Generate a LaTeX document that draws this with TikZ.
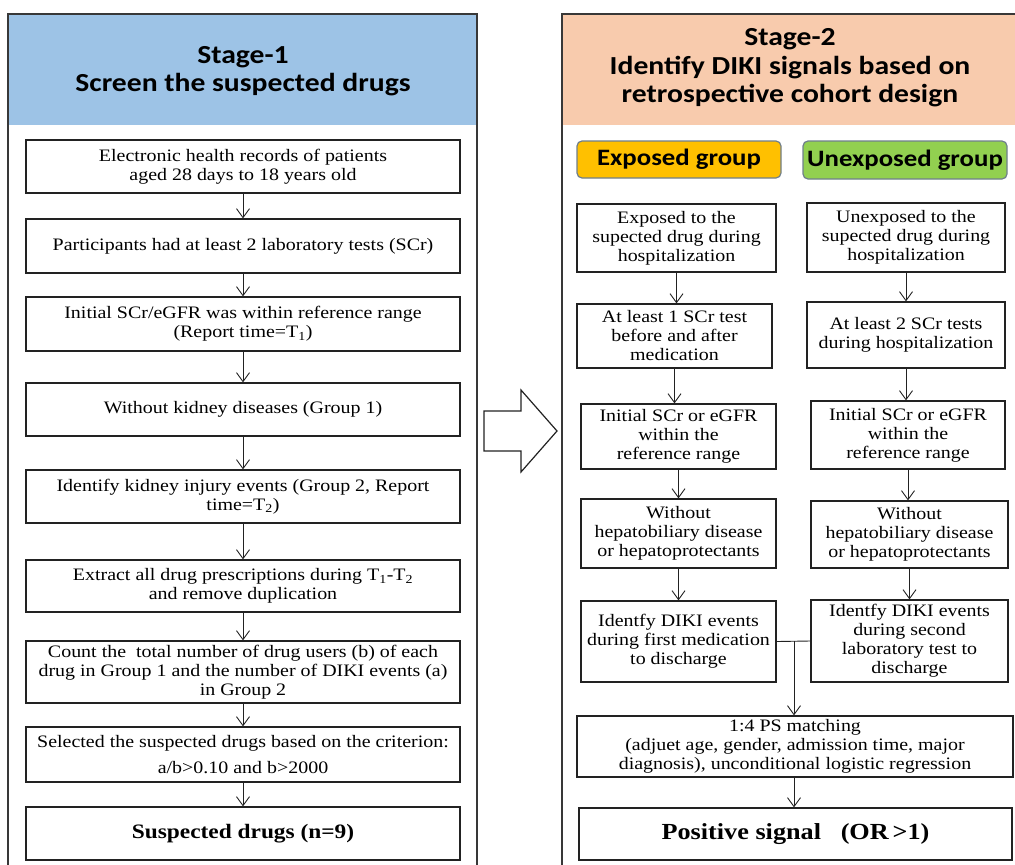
\documentclass[tikz,border=0pt]{standalone}
\usepackage{fontspec}
\setmainfont{Liberation Serif}[FakeStretch=1.14]
\newfontfamily\hd{Carlito}[FakeStretch=1.14]
\usetikzlibrary{arrows.meta}
\definecolor{hblue}{HTML}{9DC3E6}
\definecolor{hpeach}{HTML}{F8CBAD}
\definecolor{gorange}{HTML}{FFC000}
\definecolor{ggreen}{HTML}{92D050}
\definecolor{gedge}{HTML}{6F7F8C}
\definecolor{ink}{HTML}{222222}
\begin{document}
\begin{tikzpicture}[x=1pt,y=-1pt,
  box/.style={draw=ink, line width=1.2pt, align=center, inner sep=0pt, text=black,
    font=\fontsize{17.5}{19}\selectfont},
  bbox/.style={box, font=\fontsize{20.5}{22}\selectfont\bfseries},
  panel/.style={draw=ink!90, line width=1.5pt},
  grp/.style={draw=gedge, line width=1.2pt, rounded corners=5pt, align=center, inner sep=0pt,
    font=\hd\bfseries\fontsize{23.5}{26}\selectfont},
  head/.style={align=center, inner sep=0pt, font=\hd\bfseries\fontsize{26}{28.5}\selectfont},
  arr/.style={-{Straight Barb[length=9pt,width=13pt]}, line width=0.9pt, draw=ink},
  ln/.style={line width=0.9pt, draw=ink}]
\useasboundingbox (0,0) rectangle (1015,865);
\begin{scope}
\clip (0,0) rectangle (1015,865);
% panels
\fill[hblue] (8,14) rectangle (477,125);
\draw[panel] (8,14) rectangle (477,885);
\fill[hpeach] (562,14) rectangle (1040,125);
\draw[panel] (562,14) rectangle (1040,885);
\end{scope}
\node[head] (h1) at (243,71) {Stage-1\\Screen the suspected drugs};
\node[head] (h2) at (790,68) {Stage-2\\Identify DIKI signals based on\\retrospective cohort design};
% big arrow
\draw[line width=1.2pt, draw=ink, fill=white, line join=miter]
  (484,411) -- (521,411) -- (521,390) -- (557,431) -- (521,472) -- (521,451) -- (484,451) -- cycle;
% left column
\node[box, minimum width=434pt, minimum height=53pt] (b1) at (243,166.5)
  {Electronic health records of patients\\aged 28 days to 18 years old};
\node[box, minimum width=434pt, minimum height=54pt] (b2) at (243,246)
  {Participants had at least 2 laboratory tests (SCr)};
\node[box, minimum width=434pt, minimum height=54pt] (b3) at (243,324)
  {Initial SCr/eGFR was within reference range\\(Report time=T\textsubscript{1})};
\node[box, minimum width=434pt, minimum height=53pt] (b4) at (243,409.5)
  {Without kidney diseases (Group 1)};
\node[box, minimum width=434pt, minimum height=53pt] (b5) at (243,496.5)
  {Identify kidney injury events (Group 2, Report\\time=T\textsubscript{2})};
\node[box, minimum width=434pt, minimum height=52pt] (b6) at (243,586)
  {Extract all drug prescriptions during T\textsubscript{1}-T\textsubscript{2}\\and remove duplication};
\node[box, minimum width=434pt, minimum height=62pt] (b7) at (243,672)
  {Count the\ \ total number of drug users (b) of each\\drug in Group 1 and the number of DIKI events (a)\\in Group 2};
\node[box, minimum width=434pt, minimum height=55pt] (b8) at (243,754.5)
  {Selected the suspected drugs based on the criterion:\\[7pt]a/b\textgreater0.10 and b\textgreater2000};
\node[bbox, minimum width=434pt, minimum height=53pt] (b9) at (243,833.5)
  {Suspected drugs (n=9)};
\foreach \a/\b in {b1/b2,b2/b3,b3/b4,b4/b5,b5/b6,b6/b7,b7/b8,b8/b9}
  \draw[arr] (\a.south) -- (\b.north);
% groups
\node[grp, fill=gorange, minimum width=204pt, minimum height=37pt] (ge) at (679,159.5) {Exposed group};
\node[grp, fill=ggreen, minimum width=204pt, minimum height=38pt] (gu) at (905,160) {Unexposed group};
% exposed column
\node[box, minimum width=199pt, minimum height=68pt] (e1) at (676.5,238)
  {Exposed to the\\supected drug during\\hospitalization};
\node[box, minimum width=195pt, minimum height=64pt] (e2) at (674.5,336)
  {At least 1 SCr test\\before and after\\medication};
\node[box, minimum width=195pt, minimum height=65pt] (e3) at (678.5,436.5)
  {Initial SCr or eGFR\\within the\\reference range};
\node[box, minimum width=195pt, minimum height=69pt] (e4) at (678.5,533.5)
  {Without\\hepatobiliary disease\\or hepatoprotectants};
\node[box, minimum width=195pt, minimum height=81pt] (e5) at (678.5,641.5)
  {Identfy DIKI events\\during first medication\\to discharge};
% unexposed column
\node[box, minimum width=198pt, minimum height=69pt] (u1) at (906,237.5)
  {Unexposed to the\\supected drug during\\hospitalization};
\node[box, minimum width=198pt, minimum height=66pt] (u2) at (906,335)
  {At least 2 SCr tests\\during hospitalization};
\node[box, minimum width=194pt, minimum height=68pt] (u3) at (908,435)
  {Initial SCr or eGFR\\within the\\reference range};
\node[box, minimum width=197pt, minimum height=67pt] (u4) at (909.5,534.5)
  {Without\\hepatobiliary disease\\or hepatoprotectants};
\node[box, minimum width=197pt, minimum height=82pt] (u5) at (909.5,641)
  {Identfy DIKI events\\during second\\laboratory test to\\discharge};
\foreach \a/\b in {e1/e2,e2/e3,e3/e4,e4/e5,u1/u2,u2/u3,u3/u4,u4/u5}
  \draw[arr] (\a.south) -- (\a.south |- \b.north);
% merge
\node[box, minimum width=436pt, minimum height=61pt] (ps) at (795,746.5)
  {1:4 PS matching\\(adjuet age, gender, admission time, major\\diagnosis), unconditional logistic regression};
\node[box, font=\fontsize{23}{25}\selectfont\bfseries, minimum width=433pt, minimum height=52pt] (pos) at (795.5,834)
  {Positive signal\ \ \ (OR\,\textgreater1)};
\coordinate (m) at (794,641);
\draw[ln] (e5.east) -- (u5.west);
\draw[arr] (m) -- (m |- ps.north);
\draw[arr] (ps.south -| m) -- (m |- pos.north);
\end{tikzpicture}
\end{document}
